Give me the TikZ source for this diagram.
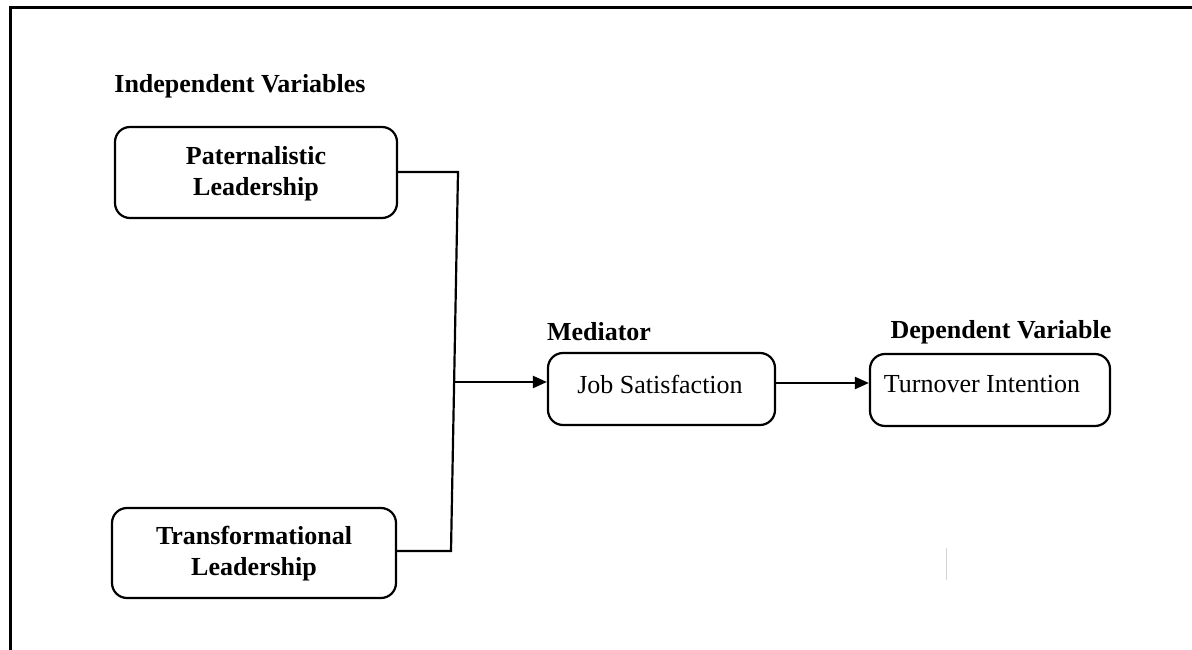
\documentclass[tikz,border=0pt]{standalone}
\usepackage{fontspec}
\setmainfont{Liberation Serif}
\usetikzlibrary{arrows.meta}
\tikzset{
  box/.style={draw, line width=2.2pt, rounded corners=15pt, inner sep=0pt},
  lbl/.style={font=\fontsize{26}{31}\selectfont, inner sep=0pt},
  blbl/.style={font=\fontsize{26}{31}\selectfont\bfseries, inner sep=0pt, align=center},
  conn/.style={line width=2.2pt},
  arr/.style={line width=2.2pt, -{Triangle[length=14pt,width=12pt]}},
}
\begin{document}
\begin{tikzpicture}[x=1pt,y=-1pt]
\useasboundingbox (0,0) rectangle (1192,650);
% frame
\draw[line width=3pt] (10,650) -- (10,8) -- (1192,8);
% headings
\node[blbl] (hiv) at (240,86) {Independent Variables};
\node[blbl] (hmed) at (599,332) {Mediator};
\node[blbl] (hdv) at (1001,332) {Dependent Variable};
% boxes
\node[box, minimum width=282pt, minimum height=91pt] (pl) at (256,172.5) {};
\node[blbl] (plt) at (256,174) {Paternalistic\\Leadership};
\node[box, minimum width=284pt, minimum height=90pt] (tl) at (254,553) {};
\node[blbl] (tlt) at (254,554) {Transformational\\Leadership};
\node[box, minimum width=227pt, minimum height=72pt] (js) at (661.5,389) {};
\node[lbl] (jst) at (660,384) {Job Satisfaction};
\node[box, minimum width=240pt, minimum height=72pt] (ti) at (990,390) {};
\node[lbl] (tit) at (982,384) {Turnover Intention};
% connectors
\coordinate (top) at (458,172);
\coordinate (bot) at (451,551);
\coordinate (jn) at (453.5,382);
\draw[conn] (pl.east |- top) -- (top) -- (bot) -- (tl.east |- bot);
\draw[arr] (jn) -- (js.west |- jn);
\draw[arr] (js.east |- 0,383) -- (ti.west |- 0,383);
% stray mark
\draw[gray!35, line width=1pt] (946,548) -- (946,580);
\end{tikzpicture}
\end{document}
